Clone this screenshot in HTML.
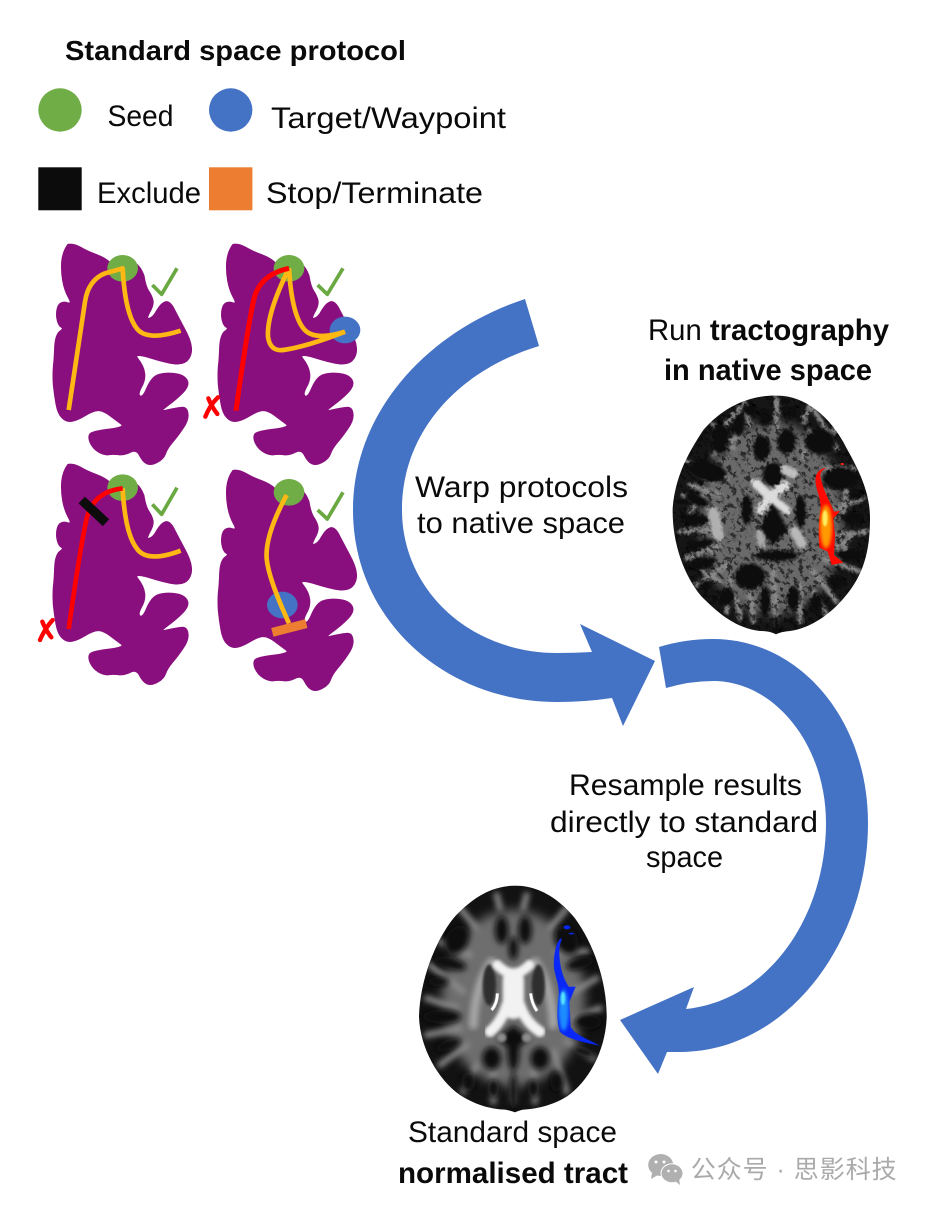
<!DOCTYPE html>
<html><head><meta charset="utf-8"><style>html,body{margin:0;padding:0;background:#fff}svg{display:block}text{font-family:"Liberation Sans","Noto Sans CJK SC",sans-serif;fill:#0a0a0a}</style></head><body>
<svg width="926" height="1206" viewBox="0 0 926 1206" xmlns="http://www.w3.org/2000/svg">
<defs>
<path id="lobe" fill="#8a0f7e" stroke="#8a0f7e" stroke-width="7" stroke-linejoin="round" d="M115,30 Q130,27 150,38 Q170,50 197,60 Q225,70 240,85 Q280,85 320,90 Q332,100 340,122 Q345,155 355,170 Q365,185 367,197 Q370,210 357,232 Q345,255 357,252 Q370,250 382,227 Q395,205 407,202 Q420,200 432,225 Q445,250 462,282 Q480,315 482,335 Q485,355 475,370 Q465,385 442,385 Q420,385 362,367 Q305,350 322,372 Q340,395 342,415 Q345,435 332,457 Q320,480 330,485 Q340,490 352,460 Q365,430 382,422 Q400,415 430,417 Q460,420 469,435 Q478,450 459,470 Q440,490 410,512 Q380,535 410,527 Q440,520 455,519 Q470,518 472,536 Q475,555 457,580 Q440,605 425,622 Q410,640 405,655 Q400,670 382,680 Q365,690 352,685 Q340,680 330,660 Q320,640 300,650 Q280,660 265,657 Q250,655 237,657 Q225,660 207,650 Q190,640 182,622 Q175,605 182,597 Q190,590 240,584 Q290,578 275,566 Q260,555 240,540 Q220,525 205,525 Q190,525 165,540 Q140,555 125,557 Q110,560 97,547 Q85,535 80,507 Q75,480 72,450 Q70,420 72,395 Q75,370 76,335 Q78,300 91,290 Q105,280 95,275 Q85,270 82,247 Q80,225 87,212 Q95,200 112,205 Q130,210 117,187 Q105,165 100,137 Q95,110 97,80 Q100,50 115,30 Z"/>
<filter id="b2"><feGaussianBlur stdDeviation="2"/></filter>
<filter id="b4"><feGaussianBlur stdDeviation="4"/></filter>
<filter id="b5"><feGaussianBlur stdDeviation="5"/></filter>
<filter id="b9"><feGaussianBlur stdDeviation="9"/></filter>
<filter id="b14"><feGaussianBlur stdDeviation="16"/></filter>
<filter id="rough" x="-5%" y="-5%" width="110%" height="110%"><feTurbulence type="fractalNoise" baseFrequency="0.1" numOctaves="2" seed="4"/><feDisplacementMap in="SourceGraphic" scale="16"/></filter>
<filter id="speck" x="0" y="0" width="100%" height="100%"><feTurbulence type="fractalNoise" baseFrequency="0.07" numOctaves="3" seed="9"/><feColorMatrix type="matrix" values="0 0 0 0 0 0 0 0 0 0 0 0 0 0 0 7 0 0 0 -3.7"/></filter>
<clipPath id="c1"><path d="M318,32 C400,30 480,90 530,190 C575,270 600,330 600,400 C600,500 580,570 525,635 C480,690 420,730 360,738 C340,740 330,742 318,748 C306,742 290,738 270,738 C200,730 150,690 95,635 C40,570 6,470 8,370 C15,280 50,210 100,135 C160,65 240,30 318,32 Z"/></clipPath>
<clipPath id="c2"><path d="M315,2 C390,2 450,45 495,100 C550,175 592,290 590,400 C585,500 535,590 470,635 C425,663 375,672 340,674 C330,676 322,679 315,682 C308,679 298,676 285,674 C250,672 205,665 150,630 C85,585 30,490 27,395 C30,285 75,170 130,100 C180,45 240,2 315,2 Z"/></clipPath>
</defs>

<!-- Legend -->
<text x="65" y="60" font-size="28" font-weight="700" textLength="341" lengthAdjust="spacingAndGlyphs">Standard space protocol</text>
<circle cx="60" cy="110" r="21.7" fill="#70ad47"/>
<text x="107.5" y="126" font-size="30" textLength="66" lengthAdjust="spacingAndGlyphs">Seed</text>
<circle cx="230.7" cy="110" r="21.7" fill="#4472c4"/>
<text x="271" y="128" font-size="30" textLength="235" lengthAdjust="spacingAndGlyphs">Target/Waypoint</text>
<rect x="38.3" y="167.3" width="43.4" height="43" fill="#0c0c0c"/>
<text x="97" y="203" font-size="30" textLength="104" lengthAdjust="spacingAndGlyphs">Exclude</text>
<rect x="209" y="167.3" width="43.4" height="43" fill="#ed7d31"/>
<text x="266" y="203" font-size="30" textLength="217" lengthAdjust="spacingAndGlyphs">Stop/Terminate</text>

<!-- Top lobes -->
<g transform="translate(30,230) scale(.33333)" fill="none" stroke-linecap="butt" stroke-linejoin="round">
<use href="#lobe" transform="translate(0,15)"/>
<use href="#lobe" transform="translate(495,15)"/>
<ellipse cx="278" cy="115" rx="46" ry="40" fill="#70ad47"/>
<path d="M116,540 L165,215 Q175,150 225,130 L278,115 Q285,250 320,295 Q350,335 452,302" stroke="#fdb813" stroke-width="14"/>
<polyline points="367,165 395,193 441,115" stroke="#6aa842" stroke-width="11"/>
<ellipse cx="777" cy="115" rx="46" ry="40" fill="#70ad47"/>
<ellipse cx="945" cy="300" rx="46" ry="40" fill="#4472c4"/>
<path d="M777,115 Q785,250 820,295 Q850,335 945,305" stroke="#fdb813" stroke-width="14"/>
<path d="M777,115 Q710,250 714,320 Q720,365 760,360 Q830,350 945,305" stroke="#fdb813" stroke-width="14"/>
<path d="M618,542 Q650,310 670,215 Q685,135 777,115" stroke="#ff0000" stroke-width="15"/>
<polyline points="863,165 892,193 939,115" stroke="#6aa842" stroke-width="11"/>
<path d="M564,502 Q540,525 526,560 M535,505 Q545,530 562,552" stroke="#ff0000" stroke-width="13" stroke-linecap="round"/>
</g>

<!-- Bottom lobes -->
<g transform="translate(30,455) scale(.33333)" fill="none" stroke-linejoin="round">
<use href="#lobe"/>
<use href="#lobe" transform="translate(495,18)"/>
<ellipse cx="278" cy="98" rx="46" ry="40" fill="#70ad47"/>
<path d="M278,100 Q285,235 320,280 Q350,325 452,287" stroke="#fdb813" stroke-width="14"/>
<path d="M116,522 Q150,280 170,190 Q190,110 278,100" stroke="#ff0000" stroke-width="14"/>
<line x1="155" y1="135" x2="228" y2="203" stroke="#0c0c0c" stroke-width="28"/>
<polyline points="367,148 395,178 441,98" stroke="#6aa842" stroke-width="11"/>
<path d="M68,495 Q45,520 30,555 M37,500 Q47,525 64,547" stroke="#ff0000" stroke-width="13" stroke-linecap="round"/>
<ellipse cx="777" cy="112" rx="46" ry="40" fill="#70ad47"/>
<ellipse cx="757" cy="450" rx="46" ry="40" fill="#4472c4"/>
<path d="M770,120 Q705,240 710,310 Q715,370 777,505" stroke="#fdb813" stroke-width="14"/>
<line x1="727" y1="532" x2="829" y2="506" stroke="#ed7d31" stroke-width="27"/>
<polyline points="863,165 892,192 939,112" stroke="#6aa842" stroke-width="11"/>
</g>

<!-- Arrows -->
<path fill="#4472c4" d="M525,299 C430,330 353,410 353,510 C353,620 445,702 557,702 Q585,702 612,698 L623,726 L655,661 L580,624 L592,652 Q575,653 557,653 C470,653 402,590 402,510 C402,430 460,370 539,346 Z"/>
<path fill="#4472c4" d="M659,647 Q685,639 713,639 C800,639 868,720 868,823 C868,945 785,1052 680,1052 L667,1052 L658,1074 L620,1020 L694,987 L686,1009 C770,1000 826,915 826,823 C826,745 775,681 713,681 Q690,681 666,688 Z"/>

<!-- Arrow labels -->
<text x="415" y="497" font-size="30" textLength="213" lengthAdjust="spacingAndGlyphs">Warp protocols</text>
<text x="417" y="533" font-size="30" textLength="208" lengthAdjust="spacingAndGlyphs">to native space</text>
<text x="569" y="795" font-size="30" textLength="233" lengthAdjust="spacingAndGlyphs">Resample results</text>
<text x="550" y="832" font-size="30" textLength="268" lengthAdjust="spacingAndGlyphs">directly to standard</text>
<text x="646" y="867" font-size="30" textLength="77" lengthAdjust="spacingAndGlyphs">space</text>
<text x="648" y="340" font-size="30" textLength="241" lengthAdjust="spacingAndGlyphs">Run <tspan font-weight="700">tractography</tspan></text>
<text x="664" y="380" font-size="30" font-weight="700" textLength="208" lengthAdjust="spacingAndGlyphs">in native space</text>
<text x="408" y="1142" font-size="30" textLength="209" lengthAdjust="spacingAndGlyphs">Standard space</text>
<text x="398" y="1183" font-size="30" font-weight="700" textLength="230" lengthAdjust="spacingAndGlyphs">normalised tract</text>

<!-- Native brain -->
<g transform="translate(670,385) scale(.33333)">
<g clip-path="url(#c1)" filter="url(#rough)">
<rect width="620" height="760" fill="#141414"/>
<ellipse cx="305" cy="400" rx="215" ry="290" fill="#6a6a6a" filter="url(#b14)"/>
<g stroke="#8a8a8a" stroke-width="15" fill="none" stroke-linecap="round" filter="url(#b4)">
<path d="M150,380 L40,330 M150,430 L30,440 M150,480 L50,520 M170,540 L80,600 M180,580 L170,680 M240,620 L250,710 M310,560 L320,720 M390,600 L390,710 M430,560 L500,650 M460,520 L570,560 M500,450 L590,440 M500,370 L580,340 M470,250 L550,250 M440,180 L500,130 M400,110 L420,60 M320,130 L320,40 M240,120 L220,50 M190,190 L130,120 M170,280 L50,230"/>
<path d="M100,330 L60,380 M90,470 L130,500 M70,260 L130,290 M530,310 L520,380 M530,480 L500,530 M210,70 L130,160 M430,70 L500,190 M210,150 L130,210 M420,140 L400,220 M60,300 L150,330 M100,560 L150,590 M430,620 L470,690 M200,640 L210,700 M540,460 L490,490"/>
</g>
<rect width="620" height="760" filter="url(#speck)" opacity=".6"/>
<g fill="#080808" filter="url(#b4)">
<ellipse cx="240" cy="75" rx="22" ry="16"/><ellipse cx="285" cy="100" rx="20" ry="24"/><ellipse cx="365" cy="82" rx="22" ry="18"/>
<ellipse cx="150" cy="160" rx="28" ry="46"/><ellipse cx="275" cy="190" rx="26" ry="38"/><ellipse cx="350" cy="170" rx="28" ry="38"/>
<ellipse cx="310" cy="268" rx="32" ry="36"/><ellipse cx="230" cy="375" rx="16" ry="46"/><ellipse cx="392" cy="380" rx="16" ry="50"/>
<path d="M310,355 L355,435 L310,480 L265,430 Z"/><ellipse cx="240" cy="575" rx="46" ry="40"/>
<ellipse cx="110" cy="258" rx="62" ry="30" transform="rotate(15 110 258)"/><ellipse cx="80" cy="345" rx="38" ry="16" transform="rotate(25 80 345)"/>
<ellipse cx="80" cy="405" rx="40" ry="16"/><ellipse cx="90" cy="478" rx="42" ry="15" transform="rotate(-15 90 478)"/><ellipse cx="100" cy="535" rx="42" ry="15" transform="rotate(-15 100 535)"/>
<ellipse cx="510" cy="280" rx="52" ry="34"/><ellipse cx="550" cy="400" rx="30" ry="20"/><ellipse cx="540" cy="510" rx="42" ry="16"/><ellipse cx="560" cy="330" rx="22" ry="12"/>
<ellipse cx="320" cy="512" rx="66" ry="17"/><ellipse cx="450" cy="170" rx="46" ry="38"/>
<ellipse cx="170" cy="635" rx="24" ry="28"/><ellipse cx="285" cy="650" rx="16" ry="48"/><ellipse cx="370" cy="640" rx="20" ry="36"/><ellipse cx="440" cy="655" rx="18" ry="30"/><ellipse cx="500" cy="590" rx="26" ry="16"/><ellipse cx="205" cy="120" rx="16" ry="32"/><ellipse cx="105" cy="600" rx="18" ry="14"/>
<ellipse cx="320" cy="720" rx="10" ry="28"/>
</g>
<g fill="none" stroke="#dcdcdc" stroke-linecap="round" filter="url(#b4)">
<path d="M258,295 L300,335 L345,300" stroke-width="28"/><path d="M270,375 L300,335 L350,375" stroke-width="24"/>
<path d="M130,385 L145,450" stroke="#b0b0b0" stroke-width="34"/><path d="M375,440 L395,475" stroke="#b8b8b8" stroke-width="30"/><path d="M345,255 L370,265" stroke="#c0c0c0" stroke-width="28"/><path d="M268,445 L275,475" stroke="#a8a8a8" stroke-width="24"/>
</g>
</g>
<path fill="#ff0a00" d="M470,248 C440,252 433,275 438,300 C442,325 452,340 452,370 C445,420 445,450 448,488 L473,500 L485,540 L520,533 L492,510 L495,450 L490,400 L510,378 L492,380 C480,350 462,320 455,290 C448,270 450,258 470,248 Z"/>
<ellipse cx="468" cy="425" rx="18" ry="65" fill="#ff9a00" filter="url(#b5)"/>
<ellipse cx="465" cy="400" rx="8" ry="24" fill="#ffee60" filter="url(#b2)"/>
<rect x="512" y="234" width="9" height="6" fill="#ee2010"/>
</g>

<!-- Standard brain -->
<g transform="translate(410,885) scale(.33333)">
<g clip-path="url(#c2)">
<rect width="640" height="700" fill="#121212"/>
<ellipse cx="310" cy="340" rx="215" ry="265" fill="#6e6e6e" filter="url(#b14)"/>
<g stroke="#8a8a8a" stroke-width="18" fill="none" stroke-linecap="round" filter="url(#b9)">
<path d="M160,320 L60,240 M140,370 L50,340 M150,430 L50,450 M170,480 L90,540 M200,540 L160,620 M250,560 L250,650 M310,500 L310,650 M370,560 L375,650 M430,500 L470,620 M470,470 L550,520 M490,400 L570,370 M490,320 L560,280 M440,200 L530,200 M420,130 L470,70 M340,70 L350,30 M270,70 L260,30 M200,130 L150,70 M180,210 L90,170"/>
</g>
<g fill="#090909" filter="url(#b9)">
<ellipse cx="140" cy="165" rx="34" ry="46" transform="rotate(30 140 165)"/><ellipse cx="470" cy="165" rx="34" ry="46" transform="rotate(-30 470 165)"/>
<ellipse cx="275" cy="135" rx="20" ry="42"/><ellipse cx="345" cy="135" rx="20" ry="42"/><ellipse cx="310" cy="190" rx="14" ry="35"/>
<ellipse cx="120" cy="235" rx="50" ry="18" transform="rotate(15 120 235)"/><ellipse cx="85" cy="290" rx="32" ry="14"/><ellipse cx="95" cy="395" rx="58" ry="22"/><ellipse cx="115" cy="480" rx="40" ry="16" transform="rotate(-20 115 480)"/>
<ellipse cx="510" cy="235" rx="42" ry="18" transform="rotate(-15 510 235)"/><ellipse cx="535" cy="410" rx="40" ry="24"/><ellipse cx="520" cy="500" rx="34" ry="14" transform="rotate(20 520 500)"/>
<ellipse cx="245" cy="520" rx="28" ry="34"/><ellipse cx="390" cy="520" rx="28" ry="34"/><ellipse cx="310" cy="500" rx="18" ry="60"/>
<ellipse cx="175" cy="590" rx="22" ry="30"/><ellipse cx="250" cy="610" rx="18" ry="28"/><ellipse cx="370" cy="610" rx="18" ry="28"/><ellipse cx="440" cy="590" rx="20" ry="30"/><ellipse cx="310" cy="620" rx="12" ry="60"/>
<path d="M310,420 L360,460 L310,500 L260,460 Z"/>
</g>
<g fill="none" stroke="#a8a8a8" stroke-linecap="round" filter="url(#b9)"><path d="M245,230 Q195,300 190,420 M375,230 Q425,300 430,420" stroke-width="26"/></g>
<g fill="#2e2e2e" filter="url(#b4)"><ellipse cx="238" cy="300" rx="20" ry="62"/><ellipse cx="385" cy="300" rx="20" ry="62"/></g>
<g fill="none" stroke="#f2f2f2" stroke-linecap="round" filter="url(#b5)">
<path d="M262,240 Q310,290 358,240" stroke-width="30"/>
<path d="M310,285 L310,370" stroke-width="64"/>
<path d="M290,360 Q275,410 240,440" stroke-width="32"/><path d="M330,360 Q345,410 390,440" stroke-width="32"/>
</g>
<ellipse cx="275" cy="458" rx="15" ry="14" fill="#8c8c8c" filter="url(#b4)"/><ellipse cx="350" cy="458" rx="15" ry="14" fill="#8c8c8c" filter="url(#b4)"/>
<path d="M262,325 Q262,355 245,375" stroke="#fff" stroke-width="9" fill="none"/>
<path d="M362,325 Q365,355 381,378" stroke="#fff" stroke-width="9" fill="none"/>
</g>
<path fill="#0a28f5" d="M452,160 C435,175 430,220 432,250 C437,280 448,300 446,330 C440,380 440,410 450,440 C465,458 510,470 570,482 C530,460 495,450 482,425 L478,350 L497,305 L476,305 C460,280 450,250 448,210 C447,190 450,175 456,162 Z"/>
<ellipse cx="461" cy="375" rx="15" ry="62" fill="#1a8cff" filter="url(#b5)"/>
<ellipse cx="459" cy="340" rx="7" ry="20" fill="#55e0ff" filter="url(#b2)"/>
<ellipse cx="471" cy="127" rx="10" ry="6" fill="#0a28f5"/><ellipse cx="484" cy="146" rx="9" ry="2.5" fill="#0a28f5"/>
</g>

<!-- Watermark -->
<ellipse cx="660.7" cy="1165" rx="12.5" ry="11" fill="#b0b0b0"/>
<path d="M652,1173 L651,1179 L658,1175 Z" fill="#b0b0b0"/>
<ellipse cx="672" cy="1173.3" rx="11.5" ry="10" fill="#fff"/>
<ellipse cx="672" cy="1173.3" rx="10.5" ry="9" fill="#b0b0b0"/>
<path d="M675,1181 L680,1185 L679,1178 Z" fill="#b0b0b0"/>
<circle cx="656" cy="1162" r="1.5" fill="#fff"/><circle cx="664" cy="1162" r="1.5" fill="#fff"/>
<circle cx="668.5" cy="1171" r="1.3" fill="#fff"/><circle cx="675.5" cy="1171" r="1.3" fill="#fff"/>
<text x="690.7" y="1178" font-size="25" style="fill:#aaaaaa" textLength="206" lengthAdjust="spacing">公众号 · 思影科技</text>
</svg>
</body></html>
